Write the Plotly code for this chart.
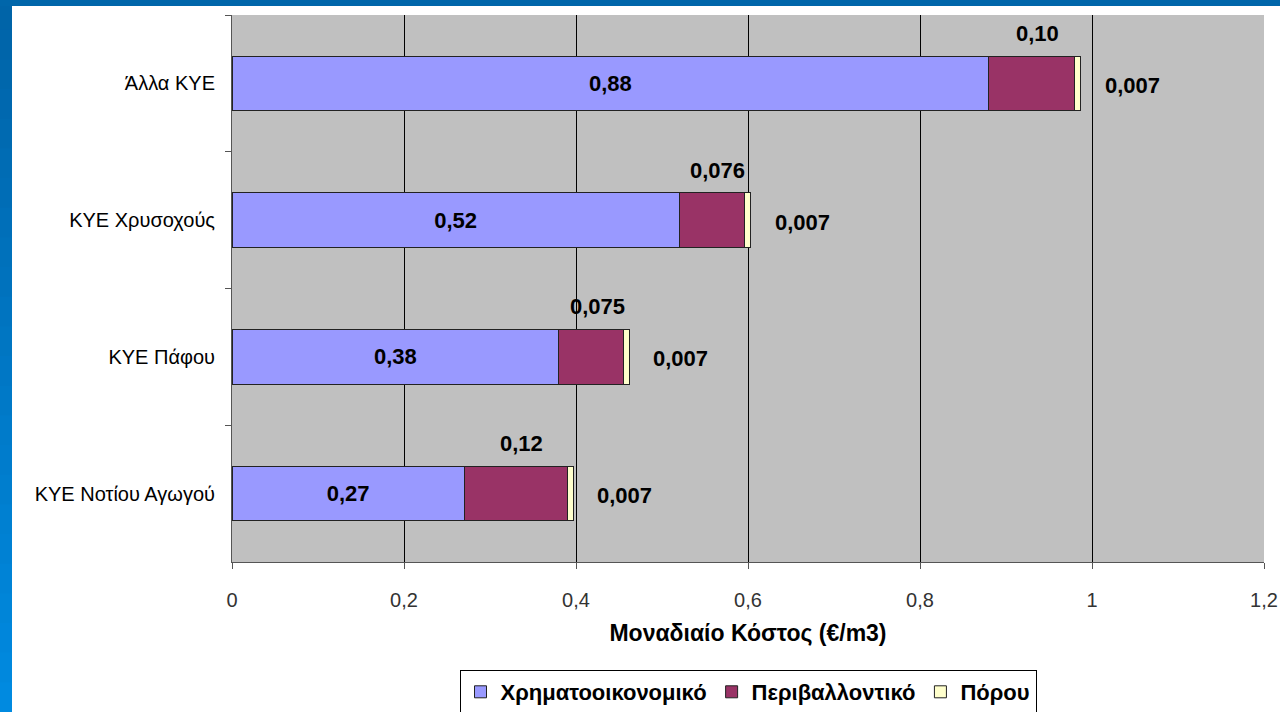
import plotly.graph_objects as go

categories = ["Άλλα ΚΥΕ", "ΚΥΕ Χρυσοχούς", "ΚΥΕ Πάφου", "ΚΥΕ Νοτίου Αγωγού"]
financial = [0.88, 0.52, 0.38, 0.27]
environmental = [0.10, 0.076, 0.075, 0.12]
resource = [0.007, 0.007, 0.007, 0.007]
financial_labels = ["0,88", "0,52", "0,38", "0,27"]
environmental_labels = ["0,10", "0,076", "0,075", "0,12"]
resource_labels = ["0,007", "0,007", "0,007", "0,007"]
series_names = ["Χρηματοοικονομικό", "Περιβαλλοντικό", "Πόρου"]

FONT = "Liberation Sans, Arial, sans-serif"
colors = ["#9999FF", "#993366", "#FFFFCC"]

fig = go.Figure()
for name, vals, col in zip(series_names, [financial, environmental, resource], colors):
    fig.add_trace(go.Bar(
        y=categories, x=vals, name=name, orientation="h",
        marker=dict(color=col, line=dict(color="#222222", width=1)),
    ))

fig.data[0].text = financial_labels
fig.data[0].textposition = "inside"
fig.data[0].insidetextanchor = "middle"
fig.data[0].textfont = dict(family=FONT, size=22, color="black")
fig.data[0].texttemplate = "<b>%{text}</b>"

annotations = []
for c, f, e, r, el, rl in zip(categories, financial, environmental, resource,
                              environmental_labels, resource_labels):
    annotations.append(dict(x=f + e / 2, y=c, xref="x", yref="y", text=f"<b>{el}</b>",
                            showarrow=False, yshift=50, xshift=6,
                            font=dict(family=FONT, size=22, color="black")))
    annotations.append(dict(x=f + e + r, y=c, xref="x", yref="y", text=f"<b>{rl}</b>",
                            showarrow=False, xanchor="left", xshift=22, yshift=-2,
                            font=dict(family=FONT, size=22, color="black")))

# slide frame decoration (blue band on the left and top)
shapes = []
W, H = 1280, 712
L, R, T, B = 232, 16, 15, 150
pw, ph = W - L - R, H - T - B
def px_to_paper_x(px):
    return (px - L) / pw
def px_to_paper_y(py):
    return (H - B - py) / ph
n = 24
c0 = (0x00, 0x64, 0xA8)
c1 = (0x00, 0x8A, 0xE0)
for i in range(n):
    t = i / (n - 1)
    col = "#%02X%02X%02X" % tuple(int(a + (b - a) * t) for a, b in zip(c0, c1))
    shapes.append(dict(type="rect", xref="paper", yref="paper",
                       x0=px_to_paper_x(0), x1=px_to_paper_x(12),
                       y0=px_to_paper_y(H * (i + 1) / n + 1), y1=px_to_paper_y(H * i / n),
                       fillcolor=col, line=dict(width=0), layer="above"))
shapes.append(dict(type="rect", xref="paper", yref="paper",
                   x0=px_to_paper_x(0), x1=px_to_paper_x(W),
                   y0=px_to_paper_y(6), y1=px_to_paper_y(0),
                   fillcolor="#0066AA", line=dict(width=0), layer="above"))

fig.update_layout(
    barmode="stack", bargap=0.6,
    width=W, height=H,
    margin=dict(l=L, r=R, t=T, b=B, autoexpand=False),
    paper_bgcolor="white", plot_bgcolor="#C0C0C0",
    separators=",.",
    font=dict(family=FONT, size=19, color="black"),
    showlegend=True,
    legend=dict(orientation="h", x=0.5, xanchor="center", y=(562 - 670) / ph, yanchor="top",
                bordercolor="black", borderwidth=1, bgcolor="white",
                font=dict(family=FONT, size=22, color="black", weight="bold"),
                traceorder="normal", itemwidth=30, entrywidth=0),
    annotations=annotations,
    shapes=shapes,
)
fig.update_xaxes(range=[0, 1.2], dtick=0.2, showgrid=True, gridcolor="black", gridwidth=1,
                 zeroline=False, showline=True, linecolor="#555555", linewidth=1,
                 ticks="outside", ticklen=6, tickcolor="#555555", ticklabelstandoff=14,
                 tickfont=dict(family=FONT, size=20, color="#333333"),
                 title=dict(text="<b>Μοναδιαίο Κόστος (€/m3)</b>", standoff=14,
                            font=dict(family=FONT, size=23, color="black")))
fig.update_yaxes(autorange="reversed", showgrid=False, showline=True, linecolor="#555555",
                 linewidth=1, ticks="outside", ticklen=6, tickcolor="#555555",
                 tickson="boundaries", ticklabelstandoff=12,
                 tickfont=dict(family=FONT, size=20, color="black"))

fig.write_html("out.html", config={"displayModeBar": False},
               post_script="document.body.style.margin='0';document.body.style.overflow='hidden';")
